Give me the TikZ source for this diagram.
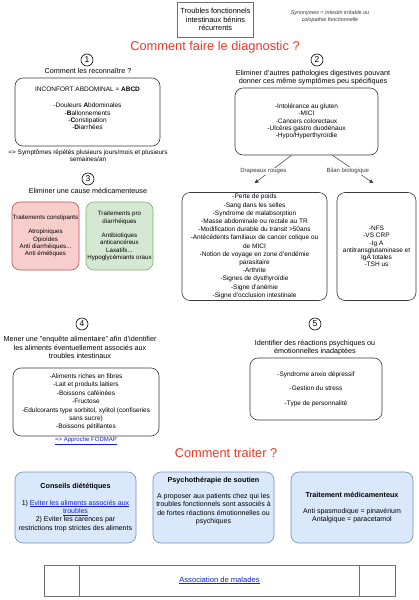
\documentclass[tikz,border=0pt]{standalone}
\usepackage{fontspec}
\setmainfont{Liberation Sans}
\usetikzlibrary{positioning, arrows.meta, calc}
\definecolor{TitleRed}{RGB}{237,56,36}
\definecolor{BoxGray}{RGB}{54,57,61}
\definecolor{FrameGray}{RGB}{110,110,110}
\definecolor{RedFill}{RGB}{248,206,204}
\definecolor{RedLine}{RGB}{184,84,80}
\definecolor{GreenFill}{RGB}{213,232,212}
\definecolor{GreenLine}{RGB}{130,179,102}
\definecolor{BlueFill}{RGB}{218,232,252}
\definecolor{BlueLine}{RGB}{108,142,191}
\definecolor{LinkBlue}{RGB}{17,34,204}
\newcommand{\lnk}[1]{\textcolor{LinkBlue}{\underline{#1}}}

\begin{document}
\begin{tikzpicture}[
  x=1pt, y=-1pt,
  box/.style={rectangle, rounded corners=8pt, draw=BoxGray, line width=0.6pt, align=center, inner sep=0pt, font=\fontsize{6.5}{7.3}\selectfont},
  redbox/.style={box, draw=RedLine, fill=RedFill, minimum width=67, minimum height=68, font=\fontsize{6.2}{7.3}\selectfont},
  greenbox/.style={box, draw=GreenLine, fill=GreenFill, minimum width=67, minimum height=68, font=\fontsize{6.2}{7.3}\selectfont},
  treatbox/.style={box, draw=BlueLine, fill=BlueFill, minimum width=121, minimum height=71, font=\fontsize{7}{8.3}\selectfont},
  num/.style={circle, draw=black, line width=0.6pt, minimum size=12, inner sep=0pt, font=\fontsize{8.5}{9}\selectfont},
  txt/.style={align=center, inner sep=0pt, font=\fontsize{7.2}{8.6}\selectfont},
  heading/.style={font=\fontsize{12.8}{14}\selectfont, TitleRed, inner sep=0pt},
  arrow/.style={-{Triangle[length=4pt, width=3.5pt]}, line width=0.5pt, BoxGray},
  label/.style={font=\fontsize{6}{7}\selectfont, fill=white, inner sep=1pt}
]
\useasboundingbox[fill=white] (0,0) rectangle (418,600);

% Title + synonyms
\node[rectangle, draw=FrameGray, line width=0.8pt, minimum width=76, minimum height=35, align=center, inner sep=0pt, font=\fontsize{7.4}{8.8}\selectfont] (title) at (215.5,19.5) {Troubles fonctionnels\\intestinaux bénins\\récurrents};
\node[txt, font=\fontsize{5.4}{6.4}\selectfont\itshape, text=black!80] (synonyms) at (330,16.5) {Synonymes = Intestin irritable ou\\colopathie fonctionnelle};

\node[heading] (diag) at (215,47.5) {Comment faire le diagnostic ?};

% 1: reconnaitre
\node[num] (num1) at (87,60) {1};
\node[txt] (q1) at (88,71) {Comment les reconnaître ?};
\node[box, minimum width=145, minimum height=68] (abcd) at (87.5,112) {INCONFORT ABDOMINAL = \textbf{ABCD}\\[9pt]
  -Douleurs \textbf{A}bdominales\\-\textbf{B}allonnements\\-\textbf{C}onstipation\\-\textbf{D}iarrhées\\\mbox{}};
\node[txt, font=\fontsize{6.4}{7.2}\selectfont] (repet) at (88,156) {=> Symptômes répétés plusieurs jours/mois et plusieurs\\semaines/an};

% 3: medicaments
\node[num] (num3) at (88,179) {3};
\node[txt] (q3) at (88,191) {Eliminer une cause médicamenteuse};
\node[redbox] (constip) at (45.5,236) {Traitements constipants\\[7pt]Atropiniques\\Opioïdes\\Anti diarrhéiques...\\Anti émétiques};
\node[greenbox] (diarrh) at (119.5,236) {Traitements pro\\diarrhéiques\\[7pt]Antibiotiques\\anticancéreux\\Laxatifs...\\Hypoglycémiants oraux};

% 2: autres pathologies
\node[num] (num2) at (317,60) {2};
\node[txt] (q2) at (313,77.5) {Eliminer d'autres pathologies digestives pouvant\\donner ces même symptômes peu spécifiques};
\node[box, minimum width=143, minimum height=67] (patho) at (306.5,121.5) {-Intolérance au gluten\\-MICI\\-Cancers colorectaux\\-Ulcères gastro duodénaux\\-Hypo/Hyperthyroïdie};
\node[box, minimum width=145, minimum height=108, font=\fontsize{6.5}{8.2}\selectfont] (drapeaux) at (254.5,246.5) {-Perte de poids\\-Sang dans les selles\\-Syndrome de malabsorption\\-Masse abdominale ou rectale au TR\\-Modification durable du transit >50ans\\-Antécédents familiaux de cancer colique ou\\de MICI\\-Notion de voyage en zone d'endémie\\parasitaire\\-Arthrite\\-Signes de dysthyroïdie\\-Signe d'anémie\\-Signe d'occlusion intestinale};
\node[box, minimum width=79, minimum height=108] (bilan) at (376.5,246.5) {-NFS\\-VS CRP\\-Ig A\\antitransglutaminase et\\IgA totales\\-TSH us};

\draw[arrow] ([xshift=-15pt]patho.south) -- node[label, pos=0.57, xshift=-7pt] {Drapeaux rouges} ([yshift=9pt]drapeaux.north);
\draw[arrow] ([xshift=26pt]patho.south) -- node[label, pos=0.57, xshift=-8pt] {Bilan biologique} ([yshift=9pt, xshift=-3pt]bilan.north);

% 4: enquete alimentaire
\node[num] (num4) at (82,324) {4};
\node[txt] (q4) at (80,347.5) {Mener une "enquête alimentaire" afin d'identifier\\les aliments éventuellement associés aux\\troubles intestinaux};
\node[box, minimum width=146, minimum height=68, font=\fontsize{6.5}{8.4}\selectfont] (aliments) at (86,402) {-Aliments riches en fibres\\-Lait et produits laitiers\\-Boissons caféinées\\-Fructose\\-Edulcorants type sorbitol, xylitol (confiseries\\sans sucre)\\-Boissons pétillantes};
\node[txt, font=\fontsize{6}{7}\selectfont] (fodmap) at (86,441) {\lnk{=> Approche FODMAP}};

% 5: reactions psychiques
\node[num] (num5) at (315,324) {5};
\node[txt] (q5) at (315,347.5) {Identifier des réactions psychiques ou\\émotionnelles inadaptées};
\node[box, minimum width=132, minimum height=62, font=\fontsize{6.5}{7.5}\selectfont] (psy) at (316,389) {-Syndrome anxio dépressif\\[7pt]-Gestion du stress\\[7pt]-Type de personnalité};

% Traitement
\node[heading] (traiter) at (226,453) {Comment traiter ?};
\node[treatbox] (conseils) at (75.5,507.5) {{\fontsize{7.2}{8.3}\selectfont\textbf{Conseils diététiques}}\\[8pt]1) \lnk{Eviter les aliments associés aux}\\\lnk{troubles}\\2) Eviter les carences par\\restrictions trop strictes des aliments};
\node[treatbox] (soutien) at (213.5,507.5) {{\fontsize{7.2}{8.3}\selectfont\textbf{Psychothérapie de soutien}}\\[8pt]A proposer aux patients chez qui les\\troubles fonctionnels sont associés à\\de fortes réactions émotionnelles ou\\psychiques\\[6pt]\mbox{}};
\node[treatbox, minimum width=122] (medic) at (352,507.5) {{\fontsize{7.2}{8.3}\selectfont\textbf{Traitement médicamenteux}}\\[8pt]Anti spasmodique = pinavérium\\Antalgique = paracetamol};

% Association
\node[rectangle, draw=FrameGray, line width=0.9pt, minimum width=351, minimum height=31, inner sep=0pt, font=\fontsize{7.6}{9}\selectfont] (assoc) at (219.5,580.5) {\lnk{Association de malades}};
\draw[FrameGray, line width=0.9pt] ([xshift=36pt]assoc.north west) -- ([xshift=36pt]assoc.south west);
\draw[FrameGray, line width=0.9pt] ([xshift=-36pt]assoc.north east) -- ([xshift=-36pt]assoc.south east);

\end{tikzpicture}
\end{document}
